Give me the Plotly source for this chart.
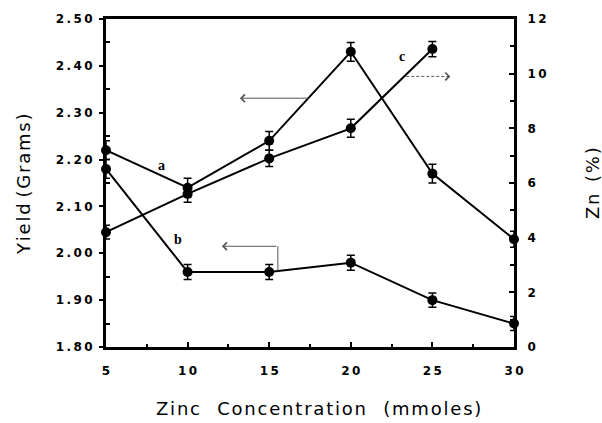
import plotly.graph_objects as go

# Zinc concentration (mmoles)
zinc = [5, 10, 15, 20, 25, 30]

# Curve a: yield (grams), left axis
yield_a = [2.22, 2.14, 2.24, 2.43, 2.17, 2.03]
err_a = [0.02, 0.02, 0.02, 0.02, 0.02, 0.017]

# Curve b: yield (grams), left axis
yield_b = [2.18, 1.96, 1.96, 1.98, 1.90, 1.85]
err_b = [0.02, 0.016, 0.016, 0.016, 0.015, 0.015]

# Curve c: zinc content (%), right axis
zn_c = [4.2, 5.6, 6.9, 8.0, 10.9]
zinc_c = [5, 10, 15, 20, 25]
err_c = [0.25, 0.3, 0.3, 0.33, 0.28]

# Tick labels
y_ticks = [1.8, 1.9, 2.0, 2.1, 2.2, 2.3, 2.4, 2.5]
y_minor = [1.85, 1.95, 2.05, 2.15, 2.25, 2.35, 2.45]
y2_ticks = [0, 2, 4, 6, 8, 10, 12]
y2_minor = [1, 3, 5, 7, 9, 11]
x_ticks = [5, 10, 15, 20, 25, 30]
x_minor = [7.5, 12.5, 17.5, 22.5, 27.5]

THIN = "\u2009"  # thin space: wide tick lettering
HAIR = "\u200a"  # hair space: letter-spaced titles
NBSP = "\u00a0"  # SVG collapses plain repeated spaces


def spaced(s, sep):
    return sep.join(list(s))


y_text = [spaced(f"{v:.2f}", THIN) for v in y_ticks]
y2_text = [spaced(str(v), THIN) for v in y2_ticks]
x_text = [spaced(str(v), THIN) for v in x_ticks]

BLACK = "#000000"
ARROW = "#555555"
tick_font = dict(family="DejaVu Sans", size=12, color=BLACK, weight="bold")


def series(x, y, err, axis):
    return go.Scatter(
        x=x, y=y, yaxis=axis, mode="lines+markers",
        line=dict(color=BLACK, width=2),
        marker=dict(color=BLACK, size=10),
        error_y=dict(type="data", array=err, color=BLACK, thickness=1.5, width=4),
        cliponaxis=False, showlegend=False,
    )


fig = go.Figure()
fig.add_trace(series(zinc, yield_a, err_a, "y"))
fig.add_trace(series(zinc, yield_b, err_b, "y"))
fig.add_trace(series(zinc_c, zn_c, err_c, "y2"))

fig.update_layout(
    width=602, height=423,
    margin=dict(l=106, r=88, t=16, b=76),
    paper_bgcolor="white", plot_bgcolor="white",
    xaxis=dict(
        range=[5, 30], tickmode="array", tickvals=x_ticks, ticktext=x_text,
        ticks="inside", ticklen=5, tickwidth=2, tickcolor=BLACK,
        minor=dict(tickmode="array", tickvals=x_minor, ticks="inside",
                   ticklen=3, tickwidth=2, tickcolor=BLACK),
        showline=True, linewidth=3, linecolor=BLACK, mirror=True,
        showgrid=False, zeroline=False, tickfont=tick_font,
        ticklabelstandoff=11,
    ),
    yaxis=dict(
        range=[1.8, 2.5], tickmode="array", tickvals=y_ticks, ticktext=y_text,
        ticks="outside", ticklen=4, tickwidth=2, tickcolor=BLACK,
        minor=dict(tickmode="array", tickvals=y_minor, ticks="inside",
                   ticklen=4, tickwidth=2, tickcolor=BLACK),
        showline=True, linewidth=3, linecolor=BLACK,
        showgrid=False, zeroline=False, tickfont=tick_font,
        ticklabelstandoff=4,
    ),
    yaxis2=dict(
        range=[0, 12], overlaying="y", side="right",
        tickmode="array", tickvals=y2_ticks, ticktext=y2_text,
        ticks="inside", ticklen=5, tickwidth=2, tickcolor=BLACK,
        minor=dict(tickmode="array", tickvals=y2_minor, ticks="inside",
                   ticklen=4, tickwidth=2, tickcolor=BLACK),
        showline=True, linewidth=3, linecolor=BLACK,
        showgrid=False, zeroline=False, tickfont=tick_font,
        ticklabelstandoff=8,
    ),
)

title_font = dict(family="DejaVu Sans", size=18, color=BLACK)
letter_font = dict(family="Liberation Serif", size=14, color=BLACK, weight="bold")

x_title = (NBSP * 3).join(spaced(w, HAIR) for w in ["Zinc", "Concentration", "(mmoles)"])
y_title = NBSP.join(spaced(w, HAIR) for w in ["Yield", "(Grams)"])
y2_title = (NBSP * 2).join(spaced(w, HAIR) for w in ["Zn", "(%)"])

annotations = [
    # axis titles
    dict(text=x_title, xref="paper", yref="paper",
         x=0.5, y=0, yshift=-61, xshift=8, showarrow=False, font=title_font,
         xanchor="center", yanchor="middle"),
    dict(text=y_title, xref="paper", yref="paper", x=0, y=0.5,
         xshift=-83, yshift=-2, showarrow=False, font=title_font, textangle=-90,
         xanchor="center", yanchor="middle"),
    dict(text=y2_title, xref="paper", yref="paper", x=1, y=0.5,
         xshift=78, showarrow=False, font=title_font, textangle=-90,
         xanchor="center", yanchor="middle"),
    # curve letters
    dict(text="a", x=8.4, y=2.188, xref="x", yref="y", showarrow=False, font=letter_font),
    dict(text="b", x=9.4, y=2.029, xref="x", yref="y", showarrow=False, font=letter_font),
    dict(text="c", x=23.15, y=10.62, xref="x", yref="y2", showarrow=False, font=letter_font),
    # arrow pointing curve a to the left axis
    dict(text="", x=13.2, y=2.331, ax=17.5, ay=2.331, xref="x", yref="y",
         axref="x", ayref="y", showarrow=True, arrowhead=4, arrowsize=1.5,
         arrowwidth=1, arrowcolor=ARROW),
    # arrow pointing curve b to the left axis
    dict(text="", x=12.1, y=2.015, ax=15.53, ay=2.015, xref="x", yref="y",
         axref="x", ayref="y", showarrow=True, arrowhead=4, arrowsize=1.5,
         arrowwidth=1, arrowcolor=ARROW),
    # arrowhead of the dashed pointer for curve c (right axis)
    dict(text="", x=26.1, y=9.9, ax=25.85, ay=9.9, xref="x", yref="y2",
         axref="x", ayref="y2", showarrow=True, arrowhead=4, arrowsize=1.5,
         arrowwidth=1, arrowcolor=ARROW),
]
fig.update_layout(annotations=annotations)

fig.add_shape(type="line", x0=15.53, x1=15.53, y0=2.015, y1=1.962,
              xref="x", yref="y", line=dict(color=ARROW, width=1))
fig.add_shape(type="line", x0=23.4, x1=26.0, y0=9.9, y1=9.9,
              xref="x", yref="y2", line=dict(color=ARROW, width=1, dash="3px,2px"))

fig.write_html("out.html")
